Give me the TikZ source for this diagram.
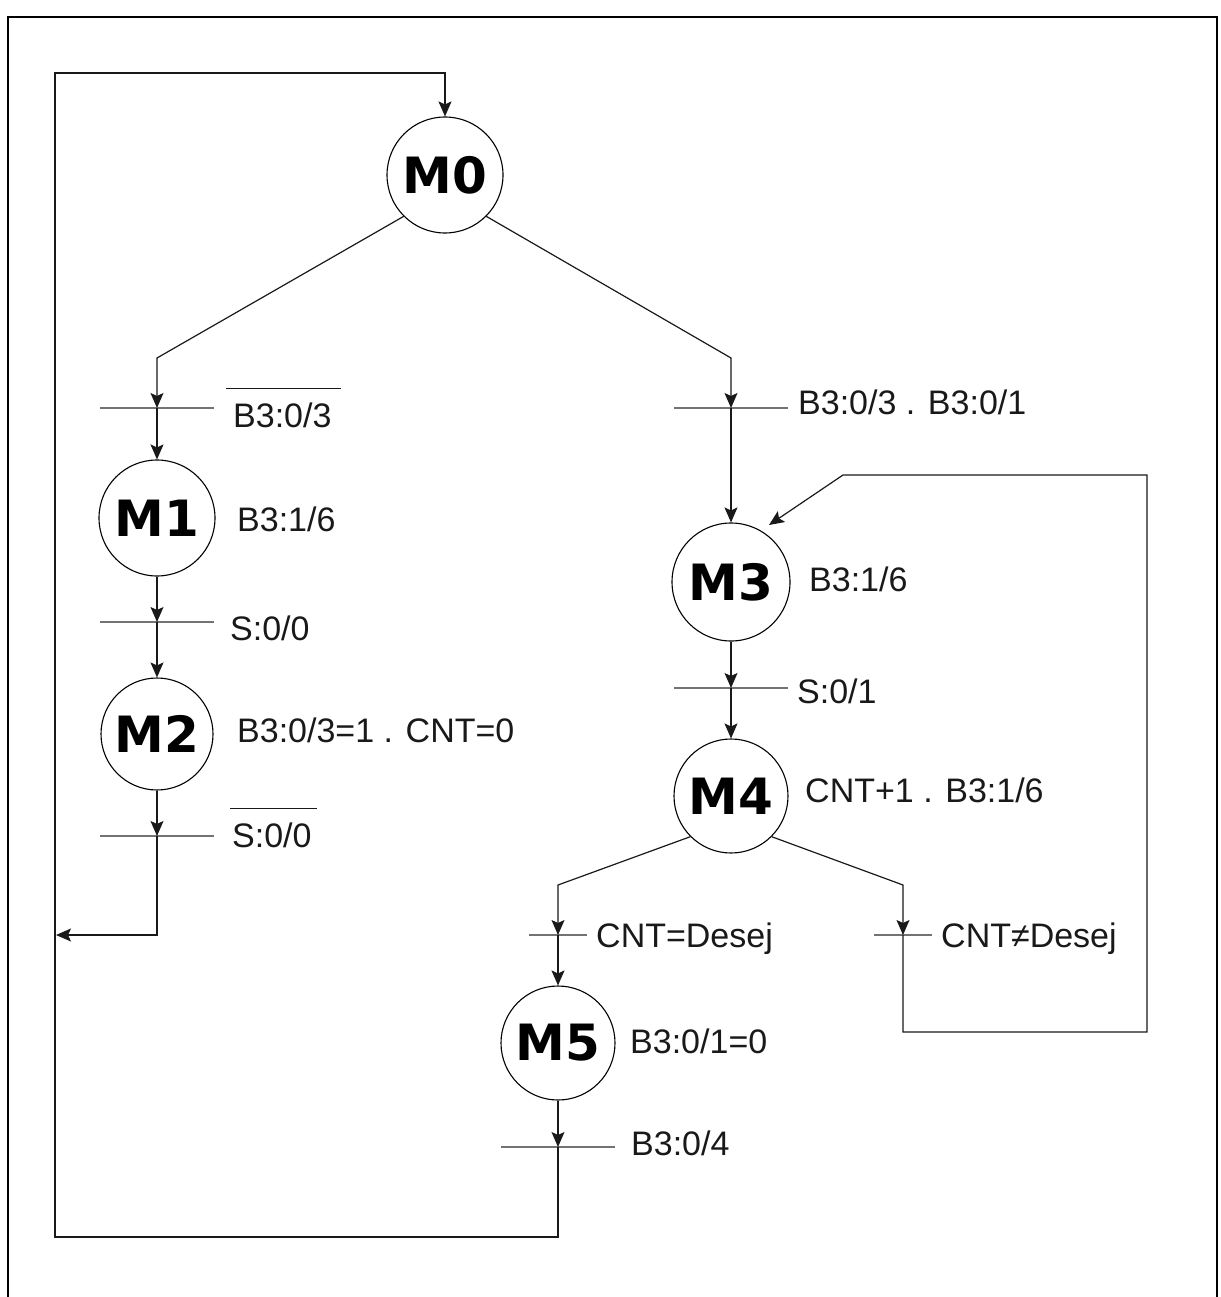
\documentclass[tikz,border=0pt]{standalone}
\usepackage{fontspec}
\setmainfont{Liberation Sans}
\newfontfamily\statefont{DejaVu Sans}
\usetikzlibrary{arrows.meta}
\newcommand\ovlbl[3]{\vbox{\hrule height 1.3pt\kern 13pt\hbox{\kern#1 #3\kern#2}}}
\begin{document}
\begin{tikzpicture}[x=1pt,y=-1pt,
  state/.style={circle, draw, line width=1.1pt, inner sep=0pt, minimum size=#1,
    font=\statefont\bfseries\fontsize{50}{50}\selectfont},
  state/.default=114pt,
  tbar/.style={inner sep=0pt, outer sep=0pt, minimum width=#1, minimum height=0pt},
  tbar/.default=114pt,
  barline/.style={draw=black!55, line width=2pt},
  conn/.style={draw=black!90, line width=1.2pt},
  arr/.style={conn, -{Stealth[length=15pt,width=13pt,inset=3pt]}},
  lbl/.style={inner sep=0pt, anchor=base west, font=\fontsize{34}{40}\selectfont, text=black!90}]
\useasboundingbox (0,0) rectangle (1220,1297);
\draw[line width=2pt] (8,1320) -- (8,17) -- (1217,17) -- (1217,1320);
% states
\node[state=116pt] (M0) at (445,175) {M0};
\node[state=116pt] (M1) at (157,518) {M1};
\node[state=112pt] (M2) at (157,734) {M2};
\node[state=118pt] (M3) at (731,582) {M3};
\node[state=114pt] (M4) at (731,796) {M4};
\node[state=114pt] (M5) at (558,1043) {M5};
% transitions
\node[tbar] (tA) at (157,408) {};
\node[tbar] (tB) at (731,408) {};
\node[tbar] (tC) at (157,622) {};
\node[tbar] (tD) at (157,836) {};
\node[tbar] (tE) at (731,688) {};
\node[tbar=58pt] (tF) at (558,935) {};
\node[tbar=58pt] (tG) at (903,935) {};
\node[tbar] (tH) at (558,1147) {};
\foreach \t in {tA,tB,tC,tD,tE,tF,tG,tH}
  \draw[barline] (\t.west) -- (\t.east);
\coordinate (m3in) at (769,525);
% connectors
\draw[arr] (M0.225) -- (tA |- 0,358) -- (tA);
\draw[arr] (tA) -- (M1);
\draw[arr] (M1) -- (tC);
\draw[arr] (tC) -- (M2);
\draw[arr] (M2) -- (tD);
\draw[arr] (tD) -- (tD |- 0,935) -- (56,935);
\draw[arr] (M0.315) -- (tB |- 0,358) -- (tB);
\draw[arr] (tB) -- (M3);
\draw[arr] (M3) -- (tE);
\draw[arr] (tE) -- (M4);
\draw[arr] (M4.225) -- (tF |- 0,885) -- (tF);
\draw[arr] (tF) -- (M5);
\draw[arr] (M5) -- (tH);
\draw[arr] (M4.315) -- (tG |- 0,885) -- (tG);
\draw[arr] (tG) -- (tG |- 0,1032) -- (1147,1032) -- (1147,475) -- (843,475) -- (m3in);
\draw[arr] (tH) -- (tH |- 0,1237) -- (55,1237) -- (55,73) -- (M0 |- 0,73) -- (M0);
% labels
\node[lbl] (lA) at (226,427) {\ovlbl{7pt}{9pt}{B3:0/3}};
\node[lbl] (lB) at (798,414) {B3:0/3 . B3:0/1};
\node[lbl] (l1) at (237,531) {B3:1/6};
\node[lbl] (lC) at (230,640) {S:0/0};
\node[lbl] (l2) at (237,742) {B3:0/3=1 . CNT=0};
\node[lbl] (lD) at (230,847) {\ovlbl{2pt}{5pt}{S:0/0}};
\node[lbl] (l3) at (809,591) {B3:1/6};
\node[lbl] (lE) at (797,703) {S:0/1};
\node[lbl] (l4) at (805,802) {CNT+1 . B3:1/6};
\node[lbl] (lF) at (596,947) {CNT=Desej};
\node[lbl] (lG) at (941,947) {CNT≠Desej};
\node[lbl] (l5) at (630,1053) {B3:0/1=0};
\node[lbl] (lH) at (631,1155) {B3:0/4};
\end{tikzpicture}
\end{document}
